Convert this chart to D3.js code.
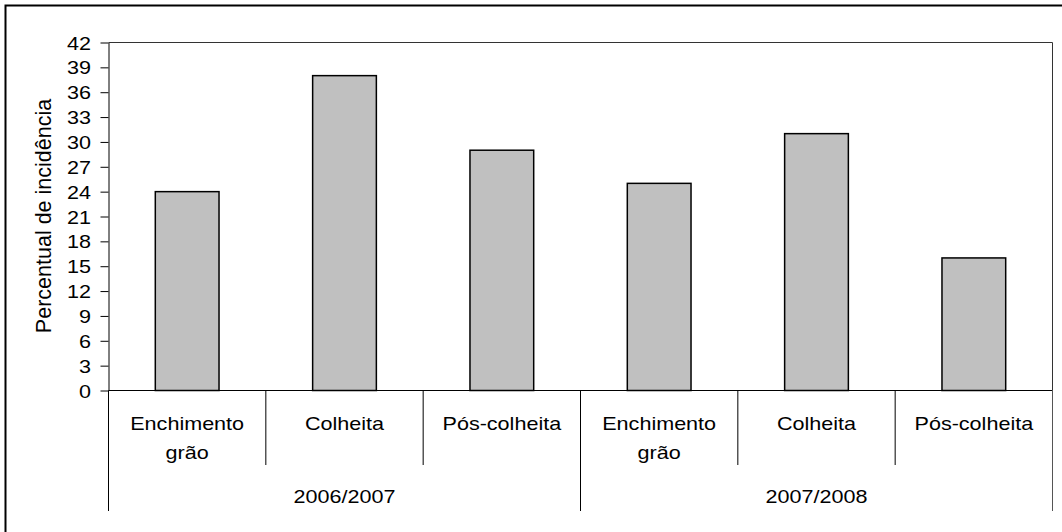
<!DOCTYPE html>
<html>
<head>
<meta charset="utf-8">
<script src="https://cdn.jsdelivr.net/npm/d3@7"></script>
<style>
  html, body { margin: 0; padding: 0; background: #fff; }
  svg { display: block; }
  text { font-family: "Liberation Sans", Arial, sans-serif; fill: #000; }
</style>
</head>
<body>
<svg id="chart" width="1062" height="532"></svg>
<script>
// Data
const seasons = ["2006/2007", "2007/2008"];
const stages = [["Enchimento", "grão"], ["Colheita"], ["Pós-colheita"]];
const values2006 = [24, 38, 29];
const values2007 = [25, 31, 16];
const yTicks = [0, 3, 6, 9, 12, 15, 18, 21, 24, 27, 30, 33, 36, 39, 42];
const yTitle = "Percentual de incidência";

(function () {
  const rows = [];
  seasons.forEach((s, si) => {
    const vals = si === 0 ? values2006 : values2007;
    stages.forEach((st, i) => rows.push({ key: s + "|" + i, season: s, stage: st, value: vals[i] }));
  });

  const svg = d3.select("#chart");
  const W = 1062, H = 532;
  const m = { left: 108.5, right: 1052.5, top: 42.5, bottom: 390.5 };
  const stretch = 1.16;   // horizontal widening of label glyphs
  const fs = 18.6;

  // Outer frame
  svg.append("rect").attr("x", 5.5).attr("y", 5.5).attr("width", W + 10).attr("height", H + 10)
    .attr("fill", "none").attr("stroke", "#000").attr("stroke-width", 2);

  const x = d3.scaleBand().domain(rows.map(d => d.key)).range([m.left, m.right]).paddingInner(0).paddingOuter(0);
  const y = d3.scaleLinear().domain([0, 42]).range([m.bottom, m.top]);

  // Plot area border (top and right)
  svg.append("path")
    .attr("d", `M${m.left},${m.top}H${m.right}V${m.bottom}`)
    .attr("fill", "none").attr("stroke", "#333").attr("stroke-width", 1);

  // Bars
  const bw = x.bandwidth() * 0.405;
  svg.append("g").selectAll("rect").data(rows).join("rect")
    .attr("x", d => x(d.key) + (x.bandwidth() - bw) / 2)
    .attr("y", d => y(d.value))
    .attr("width", bw)
    .attr("height", d => y(0) - y(d.value))
    .attr("fill", "#c0c0c0")
    .attr("stroke", "#000")
    .attr("stroke-width", 1.5);

  // Y axis
  const yAxis = d3.axisLeft(y).tickValues(yTicks).tickSize(8).tickSizeOuter(0).tickPadding(0);
  const gy = svg.append("g").attr("transform", `translate(${m.left},0)`).call(yAxis);
  gy.select(".domain").attr("stroke", "#000").attr("stroke-width", 1);
  gy.selectAll(".tick line").attr("stroke", "#000");
  gy.selectAll(".tick text")
    .attr("x", null).attr("dy", null)
    .attr("transform", `translate(-17.5,6.5) scale(${stretch},1)`)
    .attr("text-anchor", "end")
    .style("font-size", fs + "px")
    .style("font-family", "'Liberation Sans', Arial, sans-serif")
    .attr("fill", "#000");

  // Baseline at zero
  svg.append("line").attr("x1", m.left).attr("x2", m.right).attr("y1", y(0)).attr("y2", y(0))
    .attr("stroke", "#000").attr("stroke-width", 1);

  // Y axis title
  svg.append("text")
    .attr("transform", `translate(51,216) rotate(-90)`)
    .attr("text-anchor", "middle")
    .style("font-size", "21.5px")
    .text(yTitle);

  // Category axis: separators
  const sep = svg.append("g").attr("stroke", "#000").attr("stroke-width", 1);
  rows.forEach((d, i) => {
    if (i === 0) return;
    const xx = x(d.key);
    const isGroup = i % stages.length === 0;
    sep.append("line").attr("x1", xx).attr("x2", xx).attr("y1", m.bottom).attr("y2", isGroup ? 511 : 465);
  });
  sep.append("line").attr("x1", m.left).attr("x2", m.left).attr("y1", m.bottom).attr("y2", 511);
  sep.append("line").attr("x1", m.right).attr("x2", m.right).attr("y1", m.bottom).attr("y2", 511).attr("stroke", "#555");

  // Stage labels
  rows.forEach(d => {
    const cx = x(d.key) + x.bandwidth() / 2;
    d.stage.forEach((line, li) => {
      svg.append("text")
        .attr("transform", `translate(${cx},${430 + li * 29}) scale(${stretch},1)`)
        .attr("text-anchor", "middle")
        .style("font-size", fs + "px")
        .text(line);
    });
  });

  // Season labels
  seasons.forEach(s => {
    const first = x(s + "|0");
    const last = x(s + "|" + (stages.length - 1)) + x.bandwidth();
    svg.append("text")
      .attr("transform", `translate(${(first + last) / 2},502.7) scale(${stretch},1)`)
      .attr("text-anchor", "middle")
      .style("font-size", fs + "px")
      .text(s);
  });
})();
</script>
</body>
</html>
